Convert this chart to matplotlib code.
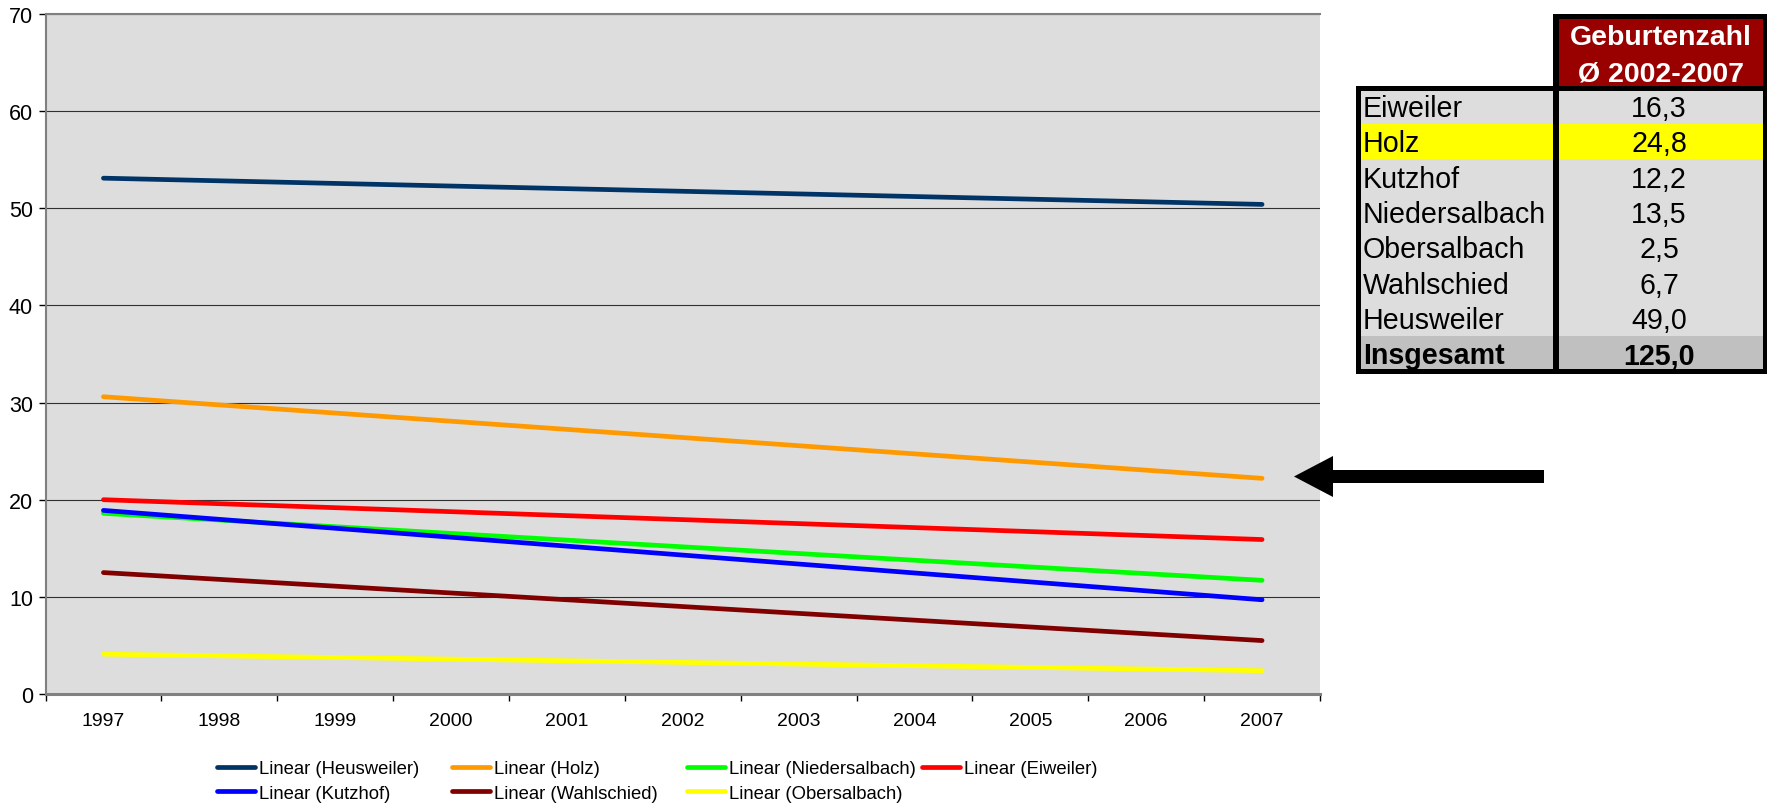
import numpy as np
import matplotlib
matplotlib.use("Agg")
import matplotlib.pyplot as plt
from matplotlib.patches import Rectangle, Polygon

plt.rcParams['font.family'] = ['Liberation Sans', 'DejaVu Sans']

# ---------------- data ----------------
years = ['1997', '1998', '1999', '2000', '2001', '2002', '2003', '2004', '2005', '2006', '2007']
series_names = ['Heusweiler', 'Holz', 'Niedersalbach', 'Eiweiler', 'Kutzhof', 'Wahlschied', 'Obersalbach']
trend_start = [53.1, 30.6, 18.6, 20.0, 18.9, 12.5, 4.1]   # trend value in 1997
trend_end = [50.4, 22.2, 11.7, 15.9, 9.7, 5.5, 2.4]       # trend value in 2007
series_colors = ['#003366', '#FF9900', '#00FF00', '#FF0000', '#0000FF', '#800000', '#FFFF00']
y_ticks = [0, 10, 20, 30, 40, 50, 60, 70]

table_header = ['Geburtenzahl', 'Ø 2002-2007']
table_names = ['Eiweiler', 'Holz', 'Kutzhof', 'Niedersalbach', 'Obersalbach', 'Wahlschied', 'Heusweiler']
table_values = [16.3, 24.8, 12.2, 13.5, 2.5, 6.7, 49.0]
total_label = 'Insgesamt'
total_value = 125.0
highlight_name = 'Holz'

# ---------------- figure ----------------
W, H = 1767, 804
fig = plt.figure(figsize=(W / 100, H / 100), dpi=100)
fig.patch.set_facecolor('white')

ax = fig.add_axes([45.5 / W, (H - 695) / H, (1320 - 45.5) / W, (695 - 15) / H])
ax.set_facecolor('#DDDDDD')
x = np.arange(len(years))
lines = []
for name, s, e, c in zip(series_names, trend_start, trend_end, series_colors):
    ln, = ax.plot([x[0], x[-1]], [s, e], color=c, lw=3.4, solid_capstyle='round',
                  label=f'Linear ({name})', zorder=3)
    lines.append(ln)

ax.set_xlim(-0.5, len(years) - 0.5)
ax.set_ylim(0, 70)
ax.set_yticks(y_ticks)
ax.set_yticklabels([str(v) for v in y_ticks])
ax.set_xticks(np.arange(-0.5, len(years), 1.0))
ax.set_xticks(x, minor=True)
ax.set_xticklabels(years, minor=True)
ax.tick_params(axis='x', which='major', length=5, width=1, direction='out',
               color='black', labelbottom=False)
ax.tick_params(axis='x', which='minor', length=0, pad=13, labelsize=14)
ax.tick_params(axis='y', length=5, width=1, pad=4, labelsize=15.5, color='black')
ax.yaxis.grid(True, color='#303030', lw=0.8)
ax.set_axisbelow(True)
for side in ['left', 'top']:
    ax.spines[side].set_color('#808080')
    ax.spines[side].set_linewidth(1.5)
ax.spines['bottom'].set_color('#808080')
ax.spines['bottom'].set_linewidth(2.2)
ax.spines['right'].set_visible(False)

# ---------------- legend (4 columns, row-wise like Excel) ----------------
order = {n: l for n, l in zip(series_names, lines)}
columns = [['Heusweiler', 'Kutzhof'], ['Holz', 'Wahlschied'], ['Niedersalbach', 'Obersalbach'], ['Eiweiler']]
col_x = [217, 452, 687, 922]
for cx, names in zip(col_x, columns):
    fig.legend(handles=[order[n] for n in names], loc='upper left',
               bbox_to_anchor=(cx / W, 1 - 761 / H), bbox_transform=fig.transFigure,
               frameon=False, borderpad=0, borderaxespad=0, handlelength=2.05,
               handletextpad=0.2, labelspacing=0.42, fontsize=13.3)

# ---------------- overlay (table + arrow) in pixel coords ----------------
ov = fig.add_axes([0, 0, 1, 1])
ov.set_xlim(0, W)
ov.set_ylim(H, 0)
ov.axis('off')
ov.patch.set_alpha(0)

row_h = 35.3
top = 89.4
name_l, div_l, div_r, right_r = 1356, 1553, 1559, 1767
val_cx = 1659

# header
ov.add_patch(Rectangle((div_r, 20), 1763 - div_r, 67.4, facecolor='#990000', edgecolor='none'))
ov.text(val_cx + 2, 45, table_header[0], color='white', fontsize=20.5, fontweight='bold',
        ha='center', va='baseline')
ov.text(val_cx + 2, 82, table_header[1], color='white', fontsize=20.5, fontweight='bold',
        ha='center', va='baseline')

all_names = table_names + [total_label]
all_vals = table_values + [total_value]
for i, (n, v) in enumerate(zip(all_names, all_vals)):
    y0 = top + i * row_h
    if n == total_label:
        fc = '#C0C0C0'
    elif n == highlight_name:
        fc = '#FFFF00'
    else:
        fc = '#DDDDDD'
    ov.add_patch(Rectangle((name_l, y0), right_r - name_l, row_h, facecolor=fc, edgecolor='none'))
    bold = 'bold' if n == total_label else 'normal'
    ov.text(1363, y0 + row_h / 2 + 10, n, fontsize=20.6, fontweight=bold, ha='left', va='baseline')
    ov.text(val_cx, y0 + row_h / 2 + 10, f'{v:.1f}'.replace('.', ','), fontsize=20.6,
            fontweight=bold, ha='center', va='baseline')

# borders
bottom = top + len(all_names) * row_h
ov.add_patch(Rectangle((name_l, 87.3), 5, bottom + 3 - 87.3, facecolor='black'))          # left
ov.add_patch(Rectangle((name_l, 87.3), right_r - name_l, 5, facecolor='black'))            # top of rows
ov.add_patch(Rectangle((div_l, 15), div_r - div_l, bottom + 3 - 15, facecolor='black'))    # divider
ov.add_patch(Rectangle((div_l, 15), right_r - div_l, 5, facecolor='black'))                # header top
ov.add_patch(Rectangle((1762.5, 15), 4.5, bottom + 3 - 15, facecolor='black'))             # right
ov.add_patch(Rectangle((name_l, bottom - 1.5), right_r - name_l, 4.5, facecolor='black'))  # bottom

# arrow
ov.add_patch(Polygon([(1294, 477.5), (1333, 457), (1333, 471), (1544, 471), (1544, 484),
                      (1333, 484), (1333, 498)], closed=True, facecolor='black', edgecolor='none'))

fig.savefig('out.png', dpi=100)
